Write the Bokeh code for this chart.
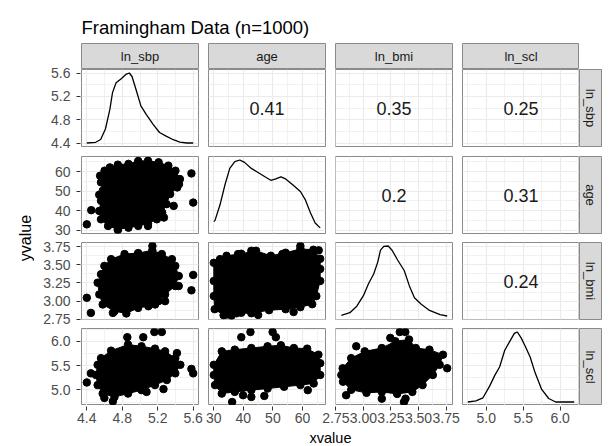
import math
from bokeh.plotting import figure
from bokeh.layouts import row, column
from bokeh.models import Range1d, FixedTicker, LinearAxis, PrintfTickFormatter, Spacer
from bokeh.core.properties import value
from bokeh.embed import file_html
from bokeh.resources import INLINE

FONT = "Liberation Sans"

# ---------------- data ----------------
title_text = "Framingham Data (n=1000)"
var_names = ["ln_sbp", "age", "ln_bmi", "ln_scl"]
var_min = [4.40, 30.0, 2.795, 4.75]
var_max = [5.60, 66.0, 3.76, 6.19]
major_ticks = [[4.4, 4.8, 5.2, 5.6], [30, 40, 50, 60], [2.75, 3.0, 3.25, 3.5, 3.75], [5.0, 5.5, 6.0]]
minor_ticks = [[4.2, 4.6, 5.0, 5.4, 5.8], [25, 35, 45, 55, 65],
               [2.625, 2.875, 3.125, 3.375, 3.625, 3.875], [4.75, 5.25, 5.75, 6.25]]
tick_formats = ["%.1f", "%d", "%.2f", "%.1f"]

# correlations (upper triangle): row, col, label
corr_rows = [0, 0, 0, 1, 1, 2]
corr_cols = [1, 2, 3, 2, 3, 3]
corr_labels = ["0.41", "0.35", "0.25", "0.2", "0.31", "0.24"]

# diagonal densities (scaled 0..1)
sbp_dens_x = [4.40, 4.50, 4.556, 4.61, 4.66, 4.69, 4.73, 4.785, 4.84, 4.88, 4.91, 4.955, 5.01, 5.07,
              5.146, 5.22, 5.30, 5.375, 5.45, 5.53, 5.60]
sbp_dens_y = [0.0, 0.01, 0.05, 0.20, 0.48, 0.72, 0.86, 0.915, 0.98, 1.0, 0.95, 0.765, 0.53, 0.41,
              0.27, 0.15, 0.094, 0.047, 0.014, 0.0, 0.0]
age_dens_x = [30.0, 30.4, 32.1, 33.8, 35.4, 37.1, 38.8, 40.4, 42.7, 45.4, 47.7, 49.3, 51.0, 52.7,
              54.3, 56.6, 59.3, 61.0, 62.7, 64.3, 66.0]
age_dens_y = [0.12, 0.137, 0.36, 0.65, 0.88, 0.976, 1.0, 0.966, 0.88, 0.81, 0.75, 0.71, 0.73, 0.76,
              0.73, 0.65, 0.55, 0.43, 0.245, 0.10, 0.03]
bmi_dens_x = [2.80, 2.877, 2.94, 3.00, 3.046, 3.093, 3.13, 3.155, 3.185, 3.225, 3.26, 3.31, 3.37,
              3.417, 3.463, 3.525, 3.60, 3.695, 3.76]
bmi_dens_y = [0.01, 0.047, 0.14, 0.29, 0.46, 0.60, 0.77, 0.94, 0.995, 1.0, 0.94, 0.80, 0.65, 0.43,
              0.26, 0.167, 0.08, 0.02, 0.0]
scl_dens_x = [4.75, 4.86, 4.955, 5.047, 5.115, 5.18, 5.25, 5.32, 5.38, 5.42, 5.47, 5.526, 5.595,
              5.66, 5.75, 5.845, 5.94, 6.05, 6.19]
scl_dens_y = [0.0, 0.015, 0.06, 0.23, 0.38, 0.50, 0.74, 0.87, 0.98, 1.0, 0.92, 0.80, 0.64, 0.42,
              0.18, 0.05, 0.0, 0.0, 0.0]

# scatter panels: dense core outline points + isolated points
sbp_age_core_x = [4.60, 4.66, 4.75, 4.87, 4.98, 5.09, 5.21, 5.32, 5.40, 5.45, 5.42, 5.34, 5.30, 5.25,
                  5.19, 5.09, 4.98, 4.87, 4.75, 4.64, 4.56, 4.54, 4.56, 4.58, 4.56, 4.58]
sbp_age_core_y = [60.5, 62.2, 63.6, 64.0, 65.5, 65.6, 64.8, 63.1, 60.5, 56.2, 51.9, 48.5, 43.3, 39.0,
                  35.5, 33.3, 32.1, 31.2, 30.4, 32.1, 35.5, 39.8, 45.0, 50.2, 54.5, 57.9]
sbp_age_out_x = [4.40, 4.45, 4.54, 4.55, 5.58, 5.60, 5.38, 5.44, 5.27, 5.09, 4.75]
sbp_age_out_y = [32.9, 40.2, 48.1, 57.9, 59.1, 44.1, 42.4, 53.6, 36.4, 32.1, 30.0]

sbp_bmi_core_x = [4.674, 4.826, 4.979, 5.139, 5.246, 5.36, 5.398, 5.437, 5.398, 5.283, 5.208, 5.094,
                  4.979, 4.846, 4.712, 4.579, 4.541, 4.522, 4.56, 4.598]
sbp_bmi_core_y = [3.579, 3.649, 3.663, 3.70, 3.649, 3.579, 3.486, 3.347, 3.208, 3.093, 3.0, 2.93,
                  2.907, 2.83, 2.861, 2.954, 3.093, 3.254, 3.371, 3.486]
sbp_bmi_out_x = [4.40, 4.446, 5.60, 5.58, 5.437, 5.283, 5.17, 4.694, 5.14]
sbp_bmi_out_y = [3.046, 2.838, 3.361, 3.149, 3.208, 3.0, 2.954, 2.838, 3.76]

sbp_scl_core_x = [4.56, 4.674, 4.865, 5.017, 5.169, 5.283, 5.398, 5.455, 5.398, 5.303, 5.169, 5.017,
                  4.865, 4.712, 4.579, 4.522, 4.503, 4.522]
sbp_scl_core_y = [5.652, 5.806, 5.931, 5.896, 5.848, 5.792, 5.652, 5.515, 5.340, 5.202, 5.098, 4.994,
                  4.923, 4.854, 4.923, 5.098, 5.306, 5.515]
sbp_scl_out_x = [4.40, 4.446, 4.857, 5.037, 5.162, 5.246, 5.417, 5.58, 5.60, 5.265, 5.074, 4.694, 4.598]
sbp_scl_out_y = [5.152, 5.340, 6.083, 6.083, 6.19, 6.19, 5.756, 5.431, 5.34, 5.015, 4.958, 4.765, 4.833]

age_bmi_core_x = [30.0, 34.3, 39.3, 44.3, 49.3, 54.3, 59.3, 63.7, 66.0, 66.0, 66.0, 64.7, 63.3, 59.3,
                  54.3, 48.7, 42.7, 37.7, 33.3, 30.3, 30.0, 30.0]
age_bmi_core_y = [3.528, 3.625, 3.653, 3.694, 3.625, 3.667, 3.72, 3.708, 3.583, 3.444, 3.278, 3.069,
                  2.958, 2.917, 2.889, 2.875, 2.833, 2.833, 2.806, 2.889, 3.069, 3.278]
age_bmi_out_x = [34.3, 39.3, 62.7, 38.2, 42.7, 53.2, 32.1, 59.3, 65.5, 36.0, 45.0, 57.0]
age_bmi_out_y = [2.815, 2.84, 3.0, 3.649, 3.694, 3.649, 3.579, 3.76, 3.70, 2.80, 2.81, 2.85]

age_scl_core_x = [30.0, 32.7, 37.1, 42.7, 48.2, 52.7, 57.1, 61.6, 65.4, 66.0, 66.0, 63.8, 59.3, 53.8,
                  48.2, 42.7, 37.1, 32.7, 30.4, 30.0]
age_scl_core_y = [5.515, 5.792, 5.827, 5.860, 5.896, 5.917, 5.860, 5.848, 5.723, 5.548, 5.306, 5.131,
                  5.098, 5.063, 5.027, 4.994, 4.958, 4.923, 5.098, 5.306]
age_scl_out_x = [39.3, 42.4, 49.9, 51.0, 36.2, 42.7, 47.1, 61.8, 39.9]
age_scl_out_y = [6.083, 6.19, 6.19, 6.083, 4.75, 4.854, 4.875, 4.994, 4.89]

bmi_scl_core_x = [2.812, 2.889, 3.012, 3.167, 3.290, 3.414, 3.475, 3.599, 3.722, 3.692, 3.630, 3.537,
                  3.444, 3.306, 3.167, 3.028, 2.889, 2.815]
bmi_scl_core_y = [5.444, 5.652, 5.792, 5.860, 6.0, 6.035, 5.860, 5.827, 5.723, 5.515, 5.306, 5.098,
                  4.958, 4.917, 4.958, 4.938, 5.0, 5.167]
bmi_scl_out_x = [2.80, 2.843, 2.935, 3.167, 3.244, 3.33, 3.38, 3.382, 3.368, 3.76]
bmi_scl_out_y = [5.306, 4.89, 5.896, 4.819, 6.069, 6.19, 6.19, 4.819, 4.75, 5.444]

densities = {0: (sbp_dens_x, sbp_dens_y), 1: (age_dens_x, age_dens_y),
             2: (bmi_dens_x, bmi_dens_y), 3: (scl_dens_x, scl_dens_y)}
scatters = {
    (1, 0): (sbp_age_core_x, sbp_age_core_y, sbp_age_out_x, sbp_age_out_y),
    (2, 0): (sbp_bmi_core_x, sbp_bmi_core_y, sbp_bmi_out_x, sbp_bmi_out_y),
    (3, 0): (sbp_scl_core_x, sbp_scl_core_y, sbp_scl_out_x, sbp_scl_out_y),
    (2, 1): (age_bmi_core_x, age_bmi_core_y, age_bmi_out_x, age_bmi_out_y),
    (3, 1): (age_scl_core_x, age_scl_core_y, age_scl_out_x, age_scl_out_y),
    (3, 2): (bmi_scl_core_x, bmi_scl_core_y, bmi_scl_out_x, bmi_scl_out_y),
}

# ---------------- style / layout ----------------
BORDER = "#8A8A8A"
GRID = "#EBEBEB"
STRIP_FILL = "#D9D9D9"
TICK_COLOR = "#4D4D4D"
STRIP_H = 27

col_w = [122, 127, 126, 123]
col_bl = [0, 5, 5, 6]
col_br = [5, 5, 4, 0]
row_h = [82, 86, 86, 82]
row_bt = [0, 5, 5, 5]
row_bb = [5, 4, 4, 0]

# y-axis figures (boundaries shifted so no tick label is cut)
yax_h = [82 + STRIP_H, 86, 90, 78]
yax_bt = [STRIP_H, 5, 5, 1]
yax_bb = [5, 4, 8, 0]


def expand(lo, hi, f=0.05):
    d = (hi - lo) * f
    return (lo - d, hi + d)


ranges = [expand(var_min[k], var_max[k]) for k in range(4)]


def base_fig(w, h, xr, yr, bl, br, bt, bb):
    p = figure(width=w, height=h, x_range=Range1d(*xr), y_range=Range1d(*yr),
               x_axis_location=None, y_axis_location=None, toolbar_location=None,
               output_backend="svg", title=None,
               min_border_left=bl, min_border_right=br, min_border_top=bt, min_border_bottom=bb)
    p.background_fill_color = "white"
    p.border_fill_color = "white"
    p.outline_line_color = None
    return p


def make_axis(k, standoff):
    ax = LinearAxis(ticker=FixedTicker(ticks=major_ticks[k]),
                    formatter=PrintfTickFormatter(format=tick_formats[k]))
    ax.axis_line_color = None
    ax.major_tick_line_color = "#333333"
    ax.major_tick_in = 0
    ax.major_tick_out = 4
    ax.minor_tick_line_color = None
    ax.minor_tick_out = 0
    ax.minor_tick_in = 0
    ax.axis_label = None
    ax.axis_label_standoff = 0
    ax.major_label_standoff = standoff
    ax.major_label_text_font = FONT
    ax.major_label_text_font_size = "14px"
    ax.major_label_text_color = TICK_COLOR
    return ax


# ---- panels ----
panels = [[None] * 4 for _ in range(4)]
for i in range(4):
    for j in range(4):
        p = base_fig(col_w[j], row_h[i], ranges[j], ranges[i], col_bl[j], col_br[j], row_bt[i], row_bb[i])
        p.outline_line_color = BORDER
        p.outline_line_width = 1
        p.xgrid.ticker = FixedTicker(ticks=major_ticks[j], minor_ticks=minor_ticks[j])
        p.ygrid.ticker = FixedTicker(ticks=major_ticks[i], minor_ticks=minor_ticks[i])
        for g in (p.xgrid, p.ygrid):
            g.grid_line_color = GRID
            g.grid_line_width = 1.2
            g.minor_grid_line_color = GRID
            g.minor_grid_line_width = 0.7
        if i == j:
            dx, dy = densities[i]
            ys = [var_min[i] + v * (var_max[i] - var_min[i]) for v in dy]
            p.line(dx, ys, line_color="black", line_width=1.3)
        elif i > j:
            cx, cy, ox, oy = scatters[(i, j)]
            p.patch(cx, cy, fill_color="black", line_color="black", line_width=1)
            p.scatter(cx, cy, size=7.5, fill_color="black", line_color="black")
            p.scatter(ox, oy, size=7.5, fill_color="black", line_color="black")
        panels[i][j] = p

for r, c, lab in zip(corr_rows, corr_cols, corr_labels):
    p = panels[r][c]
    cxv = (ranges[c][0] + ranges[c][1]) / 2
    cyv = (ranges[r][0] + ranges[r][1]) / 2
    p.text(x=[cxv], y=[cyv], text=[lab], text_font=value(FONT), text_font_size="18px",
           text_align="center", text_baseline="middle", text_color="#1A1A1A")

# ---- top strips ----
top_strips = []
for j in range(4):
    s = base_fig(col_w[j], STRIP_H, (0, 1), (0, 1), col_bl[j], col_br[j], 1, 0)
    s.grid.visible = False
    s.background_fill_color = STRIP_FILL
    s.outline_line_color = BORDER
    s.text(x=[0.5], y=[0.5], text=[var_names[j]], text_font=value(FONT), text_font_size="13px",
           text_align="center", text_baseline="middle", text_color="#1A1A1A")
    top_strips.append(s)

# ---- right strips ----
right_strips = []
for i in range(4):
    s = base_fig(34, row_h[i], (0, 1), (0, 1), 0, 12, row_bt[i], row_bb[i])
    s.grid.visible = False
    s.background_fill_color = STRIP_FILL
    s.outline_line_color = BORDER
    s.text(x=[0.5], y=[0.5], text=[var_names[i]], text_font=value(FONT), text_font_size="13px",
           angle=-math.pi / 2, text_align="center", text_baseline="middle", text_color="#1A1A1A")
    right_strips.append(s)

# ---- y axes (one narrow figure per row) ----
yaxes = []
for i in range(4):
    a = base_fig(47, yax_h[i], (0, 1), ranges[i], 46, 0, yax_bt[i], yax_bb[i])
    a.grid.visible = False
    a.add_layout(make_axis(i, 6), "left")
    yaxes.append(a)

# ---- x axes (one short figure per column; widths chosen so labels are not cut) ----
xax_w = [204, 111, 152, 146]
xax_bl = [81, 4, 20, 0]
xax_br = [6, 0, 15, 34]
xax_f0 = [0.0, 0.0, 0.0, 5 / 117]
xax_f1 = [1.0, 107 / 117, 1.0, 1.0]
XAX_H = 24
xaxes = []
for j in range(4):
    a0, b0 = ranges[j]
    xr = (a0 + (b0 - a0) * xax_f0[j], a0 + (b0 - a0) * xax_f1[j])
    a = base_fig(xax_w[j], XAX_H, xr, (0, 1), xax_bl[j], xax_br[j], 0, XAX_H - 1)
    a.grid.visible = False
    a.add_layout(make_axis(j, 2), "below")
    xaxes.append(a)

# ---- title and axis titles ----
title_fig = base_fig(613, 42, (0, 613), (42, 0), 0, 0, 0, 0)
title_fig.grid.visible = False
title_fig.text(x=[81], y=[27], text=[title_text], text_font=value(FONT), text_font_size="18.5px",
               text_align="left", text_baseline="alphabetic", text_color="black")

ylab_h = STRIP_H + sum(row_h)
ylab_fig = base_fig(34, ylab_h, (0, 34), (ylab_h, 0), 0, 0, 0, 0)
ylab_fig.grid.visible = False
ylab_fig.text(x=[24.5], y=[195.5], text=["yvalue"], text_font=value(FONT), text_font_size="16px",
              angle=math.pi / 2, text_align="center", text_baseline="middle", text_color="black")

XLAB_H = 446 - 42 - ylab_h - XAX_H
xlab_fig = base_fig(613, XLAB_H, (0, XLAB_H), (XLAB_H, 0), 0, 0, 0, 0)
xlab_fig.x_range = Range1d(0, 613)
xlab_fig.grid.visible = False
xlab_fig.text(x=[330], y=[XLAB_H / 2], text=["xvalue"], text_font=value(FONT), text_font_size="14.5px",
              text_align="center", text_baseline="middle", text_color="black")

strip_row = row(*top_strips, Spacer(width=34, height=STRIP_H))
grid_rows = [row(*panels[i], right_strips[i]) for i in range(4)]
body = row(ylab_fig, column(*yaxes), column(strip_row, *grid_rows))
layout = column(title_fig, body, row(*xaxes), xlab_fig)

open("out.html", "w").write(file_html(layout, INLINE))
